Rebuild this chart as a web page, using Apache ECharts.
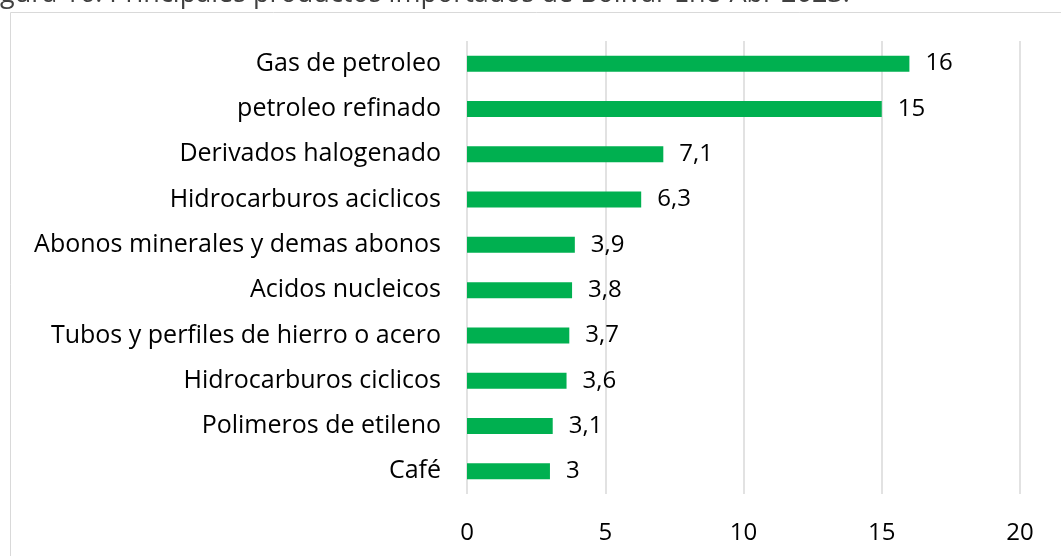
<!DOCTYPE html>
<html>
<head>
<meta charset="utf-8">
<script src="https://cdn.jsdelivr.net/npm/echarts@6/dist/echarts.min.js"></script>
<style>
  html, body { margin: 0; padding: 0; background: #fff; }
  #chart { width: 1061px; height: 556px; }
</style>
</head>
<body>
<div id="chart"></div>
<script>
// productos, de abajo hacia arriba (orden del eje de categorias)
var productos = [
  'Café',
  'Polimeros de etileno',
  'Hidrocarburos ciclicos',
  'Tubos y perfiles de hierro o acero',
  'Acidos nucleicos',
  'Abonos minerales y demas abonos',
  'Hidrocarburos aciclicos',
  'Derivados halogenado',
  'petroleo refinado',
  'Gas de petroleo'
];
var valores = [3, 3.1, 3.6, 3.7, 3.8, 3.9, 6.3, 7.1, 15, 16];
var titulo = 'Figura 16. Principales productos importados de Bolívar Ene-Abr 2023.';

var fuente = '"Open Sans", sans-serif';
var fuenteTitulo = '27px "Open Sans"';

// el titulo queda cortado arriba y a la izquierda, como en la imagen
var ctx = document.createElement('canvas').getContext('2d');
ctx.font = fuenteTitulo;
var corte = ctx.measureText('Fi').width;

var chart = echarts.init(document.getElementById('chart'));

chart.setOption({
  animation: false,
  graphic: [
    {
      type: 'rect',
      shape: { x: 10.5, y: 12.5, width: 1100, height: 600 },
      style: { fill: 'none', stroke: '#d9d9d9', lineWidth: 1 }
    },
    {
      type: 'text',
      x: -corte,
      y: 8,
      style: { text: titulo, font: fuenteTitulo, fill: '#404040', verticalAlign: 'bottom' }
    }
  ],
  grid: { left: 467, right: 41, top: 41, bottom: 62 },
  xAxis: {
    type: 'value',
    min: 0,
    max: 20,
    interval: 5,
    axisLine: { show: false },
    axisTick: { show: false },
    splitLine: { lineStyle: { color: '#d9d9d9', width: 1.5 } },
    axisLabel: { color: '#000', fontFamily: fuente, fontSize: 24, margin: 27 }
  },
  yAxis: {
    type: 'category',
    data: productos,
    axisLine: { show: false },
    axisTick: { show: false },
    axisLabel: { color: '#000', fontFamily: fuente, fontSize: 25, margin: 26 }
  },
  series: [{
    type: 'bar',
    data: valores,
    barWidth: 16,
    itemStyle: { color: '#00b050' },
    label: {
      show: true,
      position: 'right',
      distance: 16,
      color: '#000',
      fontFamily: fuente,
      fontSize: 24,
      formatter: function (p) { return String(p.value).replace('.', ','); }
    }
  }]
});
</script>
</body>
</html>
